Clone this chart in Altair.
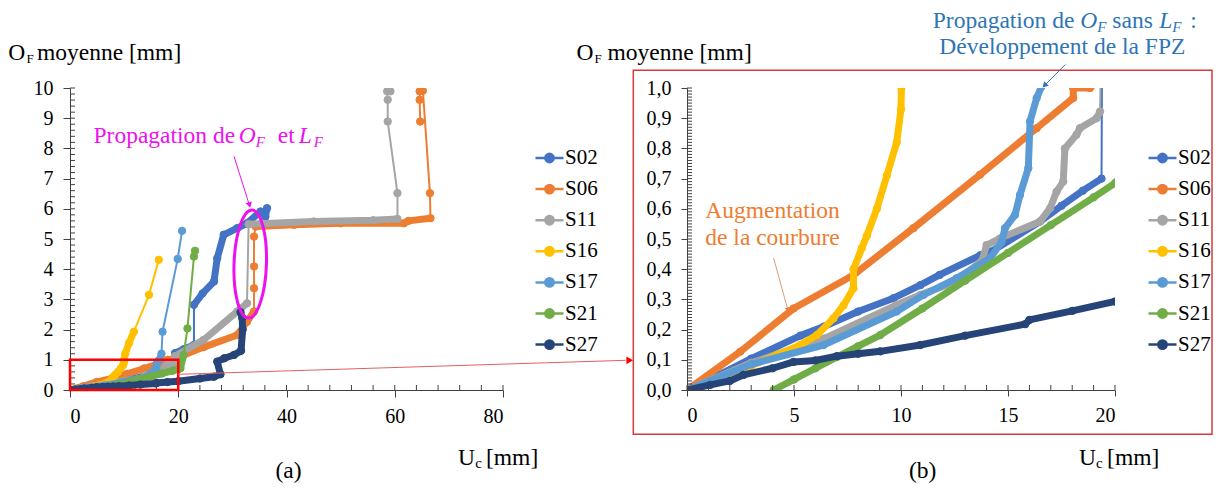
import altair as alt
import pandas as pd

FONT = "Liberation Serif"
AX = "#404040"
MAG = "#EE10EE"
BLUE_TXT = "#2E75B6"
ORANGE_TXT = "#ED7D31"

names = ["S02", "S06", "S11", "S16", "S17", "S21", "S27"]
colors = ["#4472C4", "#ED7D31", "#A5A5A5", "#FFC000", "#5B9BD5", "#70AD47", "#264478"]

# ---- series values (U_c [mm], O_F [mm]) ----
s02_x = [0, 1.5, 3.0, 5.3, 6.4, 8.0, 9.65, 10.9, 11.8, 13.7, 14.2, 16.5, 17.5, 18.5, 19.37, 19.4, 21.0, 22.9, 22.9, 24.5, 26.6, 27.2, 28.4, 30.9, 32.7, 35.2, 36.1, 36.4]
s02_y = [0, 0.05, 0.104, 0.18, 0.21, 0.26, 0.304, 0.347, 0.381, 0.446, 0.458, 0.558, 0.61, 0.66, 0.70, 1.22, 1.35, 1.49, 2.82, 3.2, 3.59, 4.36, 5.14, 5.36, 5.52, 5.91, 5.74, 6.02]
s02_band = [1] * 14 + [0] + [1, 1] + [0] + [1] * 9

s06_x = [0, 2.49, 4.98, 7.78, 10.58, 13.69, 16.34, 18.05, 18.05, 18.83, 24.7, 30.9, 32.7, 34.0, 34.0, 34.0, 34.0, 34.3, 41.4, 50.0, 61.7, 62.5, 66.6, 66.5, 65.2, 64.6, 64.6, 64.7]
s06_y = [0, 0.127, 0.27, 0.381, 0.536, 0.713, 0.867, 0.967, 1.0, 1.0, 1.42, 1.82, 2.26, 2.6, 3.37, 4.09, 5.08, 5.41, 5.47, 5.52, 5.52, 5.6, 5.69, 6.52, 9.91, 9.89, 9.61, 8.89]
s06_band = [1] * 13 + [0] * 4 + [1] * 5 + [0] * 5

s11_x = [0, 3.0, 6.4, 9.8, 10.9, 12.6, 13.8, 14.0, 14.63, 16.5, 16.97, 17.27, 17.58, 17.66, 18.2, 18.36, 19.14, 19.3, 19.35, 24.7, 30.9, 32.7, 33.0, 45.0, 56.0, 60.5, 60.5, 58.7, 58.7, 58.6, 59.2]
s11_y = [0, 0.09, 0.17, 0.282, 0.315, 0.36, 0.43, 0.48, 0.502, 0.558, 0.602, 0.657, 0.69, 0.80, 0.845, 0.867, 0.90, 0.922, 1.12, 1.66, 2.6, 2.87, 5.49, 5.58, 5.62, 5.66, 6.52, 8.89, 9.61, 9.89, 9.89]
s11_band = [1] * 17 + [0] + [1] * 3 + [0] + [1] * 3 + [0] * 5

s16_x = [0, 1.5, 3.0, 4.2, 5.29, 6.07, 6.84, 7.31, 7.78, 7.78, 8.17, 8.4, 8.87, 9.34, 9.8, 10.0, 10.02, 10.2, 10.9, 11.8, 14.6, 16.4]
s16_y = [0, 0.03, 0.08, 0.116, 0.149, 0.182, 0.237, 0.28, 0.337, 0.40, 0.47, 0.51, 0.60, 0.71, 0.82, 0.93, 1.0, 1.2, 1.55, 1.93, 3.15, 4.31]
s16_band = [1] * 19 + [0] * 2

s17_x = [0, 3.0, 6.38, 9.8, 11.05, 12.6, 14.16, 14.7, 14.86, 15.33, 15.56, 15.95, 16.03, 16.34, 16.57, 16.9, 17.1, 19.9, 20.7]
s17_y = [0, 0.085, 0.149, 0.26, 0.315, 0.37, 0.436, 0.49, 0.536, 0.58, 0.646, 0.735, 0.89, 0.967, 1.005, 1.2, 1.93, 4.34, 5.27]
s17_band = [1] * 15 + [0] * 3

s21_x = [4.05, 5.0, 6.0, 7.0, 8.0, 9.03, 11.0, 13.0, 15.0, 17.0, 19.0, 20.0, 20.4, 21.0, 21.7, 22.9, 23.1]
s21_y = [0, 0.035, 0.072, 0.109, 0.145, 0.182, 0.27, 0.362, 0.454, 0.546, 0.638, 0.685, 0.72, 1.16, 2.04, 4.42, 4.61]
s21_band = [1] * 13 + [0] * 3

s27_x = [0, 1.09, 2.0, 2.64, 4.0, 4.98, 6.0, 7.0, 8.0, 9.03, 10.9, 13.0, 15.8, 16.0, 18.0, 20.0, 24.0, 26.6, 27.8, 27.2, 28.5, 30.3, 31.6, 31.9, 31.8, 31.5]
s27_y = [0, 0.017, 0.03, 0.05, 0.072, 0.093, 0.098, 0.112, 0.12, 0.128, 0.149, 0.18, 0.218, 0.232, 0.262, 0.293, 0.38, 0.44, 0.52, 0.94, 1.05, 1.16, 1.3, 2.0, 2.4, 2.58]
s27_band = [1] * 25

# ---- axis tick values ----
left_x_ticks = [0, 20, 40, 60, 80]
left_y_ticks = list(range(0, 11))
right_x_ticks = [0, 5, 10, 15, 20]
right_y_ticks = [round(0.1 * i, 1) for i in range(11)]
left_x_minor = [4 * i for i in range(21)]
left_y_minor = [round(0.2 * i, 1) for i in range(51)]
right_x_minor = list(range(21))
right_y_minor = [round(0.01 * i, 2) for i in range(101)]

# ---- tables ----
series_x = dict(zip(names, [s02_x, s06_x, s11_x, s16_x, s17_x, s21_x, s27_x]))
series_y = dict(zip(names, [s02_y, s06_y, s11_y, s16_y, s17_y, s21_y, s27_y]))
series_b = dict(zip(names, [s02_band, s06_band, s11_band, s16_band, s17_band, s21_band, s27_band]))
series_c = dict(zip(names, colors))

pts_df, band_df = {}, {}
for n in names:
    xs, ys, bd = series_x[n], series_y[n], series_b[n]
    pts_df[n] = pd.DataFrame({"series": n, "ord": list(range(len(xs))), "x": xs, "y": ys})
    rows, run, prev = [], 0, False
    for i in range(len(xs) - 1):
        if bd[i]:
            if not prev:
                run += 1
                rows.append(dict(run=run, ord=i, x=xs[i], y=ys[i]))
            rows.append(dict(run=run, ord=i + 1, x=xs[i + 1], y=ys[i + 1]))
            prev = True
        else:
            prev = False
    band_df[n] = pd.DataFrame(rows)

one = pd.DataFrame({"k": [0]})

LEG_PATH = "M-1,0L1,0M-0.3,0A0.3,0.3,0,1,1,0.3,0A0.3,0.3,0,1,1,-0.3,0Z"
ELL_PATH = "M-0.3,0A0.3,1,0,1,0,0.3,0A0.3,1,0,1,0,-0.3,0Z"

WL, WR, H = 433, 428, 302


def txt(s, x, y, size=23.5, color="#000000", style="normal"):
    return alt.Chart(one).mark_text(
        text=s, font=FONT, fontSize=size, color=color, fontStyle=style,
        align="left", baseline="alphabetic"
    ).encode(x=alt.value(x), y=alt.value(y))


def seg(x1, y1, x2, y2, color, width=1):
    return alt.Chart(one).mark_rule(color=color, strokeWidth=width).encode(
        x=alt.value(x1), y=alt.value(y1), x2=alt.value(x2), y2=alt.value(y2))


def head(x, y, shape, color, angle=0, size=40):
    m = dict(shape=shape, filled=True, size=size, color=color, opacity=1)
    if angle:
        m["angle"] = angle
    return alt.Chart(one).mark_point(**m).encode(x=alt.value(x), y=alt.value(y))


def panel(xdom, ydom, W, xt, yt, xmin, ymin, ykw, legend_x, tick_len, ann_fn):
    cs = alt.Scale(domain=names, range=colors)
    common = dict(labelFont=FONT, labelFontSize=20, labelColor="#000000", domainColor=AX,
                  tickColor=AX, tickSize=tick_len, grid=False, domainWidth=1, tickWidth=1)
    xaxis = alt.Axis(values=xt, format="d", labelPadding=9, title=None, **common)
    yaxis = alt.Axis(values=yt, labelPadding=10, title=None, **ykw, **common)

    def X(field):
        return alt.X(field, scale=alt.Scale(domain=xdom, nice=False, zero=False), axis=xaxis)

    def Y(field):
        return alt.Y(field, scale=alt.Scale(domain=ydom, nice=False, zero=False), axis=yaxis)

    leg = alt.Legend(orient="none", legendX=legend_x, legendY=54.5, title=None,
                     symbolType=LEG_PATH, symbolSize=784, symbolStrokeWidth=2.5,
                     labelFont=FONT, labelFontSize=21, labelColor="#000000",
                     rowPadding=5.1, labelOffset=0, padding=0)

    layers = []
    for n in names:
        c = series_c[n]
        thin = alt.Chart(pts_df[n]).mark_line(color=c, strokeWidth=2, clip=True).encode(
            x=X("x:Q"), y=Y("y:Q"), order=alt.Order("ord:Q"))
        band = alt.Chart(band_df[n]).mark_line(color=c, strokeWidth=7, clip=True,
                                               strokeCap="round", strokeJoin="round").encode(
            x=X("x:Q"), y=Y("y:Q"), detail="run:N", order=alt.Order("ord:Q"))
        pts = alt.Chart(pts_df[n]).mark_point(filled=True, size=55, clip=True, strokeWidth=1, opacity=1).encode(
            x=X("x:Q"), y=Y("y:Q"),
            fill=alt.Fill("series:N", scale=cs, legend=leg),
            stroke=alt.Stroke("series:N", scale=cs, legend=leg))
        layers += [thin, band, pts]

    ymin_l = alt.Chart(pd.DataFrame({"v": ymin})).mark_rule(color=AX, strokeWidth=1).encode(
        y=Y("v:Q"), x=alt.value(0), x2=alt.value(5))
    xmin_l = alt.Chart(pd.DataFrame({"v": xmin})).mark_rule(color=AX, strokeWidth=1).encode(
        x=X("v:Q"), y=alt.value(H), y2=alt.value(H - 5))
    layers += [ymin_l, xmin_l] + ann_fn(X, Y)
    return alt.layer(*layers).properties(width=W, height=H)


def left_ann(X, Y):
    rect = alt.Chart(pd.DataFrame({"x0": [0], "x1": [20], "y0": [0], "y1": [1]})).mark_rect(
        fillOpacity=0, stroke="#FF0000", strokeWidth=2.5).encode(
        x=X("x0:Q"), x2="x1:Q", y=Y("y0:Q"), y2="y1:Q")
    conn = alt.Chart(pd.DataFrame({"x0": [20], "y0": [0.52]})).mark_rule(color="#E06060", strokeWidth=1).encode(
        x=X("x0:Q"), y=Y("y0:Q"), x2=alt.value(555.7), y2=alt.value(272.3))
    ell = alt.Chart(pd.DataFrame({"x": [33.3], "y": [4.17]})).mark_point(
        shape=ELL_PATH, size=11664, filled=False, strokeWidth=3, color=MAG, opacity=1, angle=2).encode(
        x=X("x:Q"), y=Y("y:Q"))
    return [
        rect, conn, head(559.7, 272.3, "triangle-right", "#FF0000", size=60), ell,
        seg(164, 68.3, 179, 116, MAG), head(179.5, 117, "triangle-down", MAG, angle=344, size=40),
        txt("Propagation de", 23.5, 55, color=MAG),
        txt("O", 168.7, 55, color=MAG, style="italic"),
        txt("F", 185.7, 59, size=15, color=MAG, style="italic"),
        txt("et", 207.7, 55, color=MAG),
        txt("L", 228.7, 55, color=MAG, style="italic"),
        txt("F", 243.7, 59, size=15, color=MAG, style="italic"),
        txt("O", -61.8, -28.4), txt("F", -43.5, -25.2, size=13),
        txt("moyenne [mm]", -33.0, -28.4),
        txt("U", 388.0, 376.6), txt("c", 405.2, 380, size=15), txt("[mm]", 416.0, 376.6),
        txt("(a)", 205.5, 390.3),
    ]


def right_ann(X, Y):
    box = alt.Chart(one).mark_rect(fillOpacity=0, stroke="#D63B3B", strokeWidth=1.5).encode(
        x=alt.value(-53.7), x2=alt.value(525), y=alt.value(-17.7), y2=alt.value(346.3))
    return [
        box,
        txt("Propagation de", 245.8, -60.4, color=BLUE_TXT),
        txt("O", 393.3, -60.4, color=BLUE_TXT, style="italic"),
        txt("F", 410.3, -56.4, size=15, color=BLUE_TXT, style="italic"),
        txt("sans", 425.3, -60.4, color=BLUE_TXT),
        txt("L", 472.3, -60.4, color=BLUE_TXT, style="italic"),
        txt("F", 485.3, -56.4, size=15, color=BLUE_TXT, style="italic"),
        txt(":", 503.3, -60.4, color=BLUE_TXT),
        txt("Développement de la FPZ", 252.3, -34.0, color=BLUE_TXT),
        seg(378.3, -23.4, 359, -4, BLUE_TXT), head(357.5, -2.5, "triangle-down", BLUE_TXT, angle=45, size=40),
        txt("Augmentation", 18.3, 130, color=ORANGE_TXT),
        txt("de la courbure", 18.3, 156.6, color=ORANGE_TXT),
        seg(86.6, 170, 100.6, 221, "#D9A07A"), head(101.6, 222, "triangle-down", ORANGE_TXT, angle=345, size=40),
        txt("O", -110.5, -28.4), txt("F", -92.5, -25.2, size=13),
        txt("moyenne [mm]", -79.5, -28.4),
        txt("U", 391.9, 376.6), txt("c", 409.1, 380, size=15), txt("[mm]", 420.1, 376.6),
        txt("(b)", 222.0, 390.3),
    ]


left = panel([0, 80], [0, 10], WL, left_x_ticks, left_y_ticks, left_x_minor, left_y_minor,
             dict(format="d"), 464, 7, left_ann)
right = panel([0, 20], [0, 1], WR, right_x_ticks, right_y_ticks, right_x_minor, right_y_minor,
              dict(labelExpr="replace(format(datum.value, '.1f'), '.', ',')"), 460, 6, right_ann)

chart = alt.hconcat(left, right, spacing=184, bounds="flush").resolve_scale(
    fill="independent", stroke="independent"
).resolve_legend(
    fill="independent", stroke="independent"
).properties(padding=0).configure_view(strokeWidth=0)

chart.save("out.html", embed_options={"renderer": "svg", "actions": False})
